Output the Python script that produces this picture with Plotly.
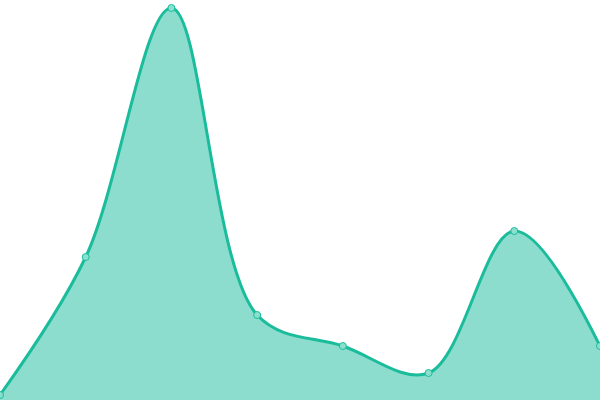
import plotly.graph_objects as go

# Data
x_vals = [0, 1, 2, 3, 4, 5, 6, 7]
y_vals = [5, 143, 392, 85, 54, 27, 169, 54]

fig = go.Figure()

fig.add_scatter(
    x=x_vals,
    y=y_vals,
    mode="lines+markers",
    line=dict(color="#1abc9c", width=3, shape="spline", smoothing=1),
    marker=dict(size=7, color="#8ae0cf", line=dict(color="#1abc9c", width=1)),
    fill="tozeroy",
    fillcolor="rgba(26,188,156,0.5)",
    cliponaxis=False,
    hoverinfo="skip",
)

fig.update_layout(
    width=600,
    height=400,
    margin=dict(l=0, r=0, t=0, b=0),
    paper_bgcolor="white",
    plot_bgcolor="white",
    showlegend=False,
)

fig.update_xaxes(range=[0, 7], visible=False)
fig.update_yaxes(range=[0, 400], visible=False)

fig.write_html(
    "out.html",
    config={"displayModeBar": False},
    post_script="document.body.style.margin='0'; document.body.style.overflow='hidden';",
)
